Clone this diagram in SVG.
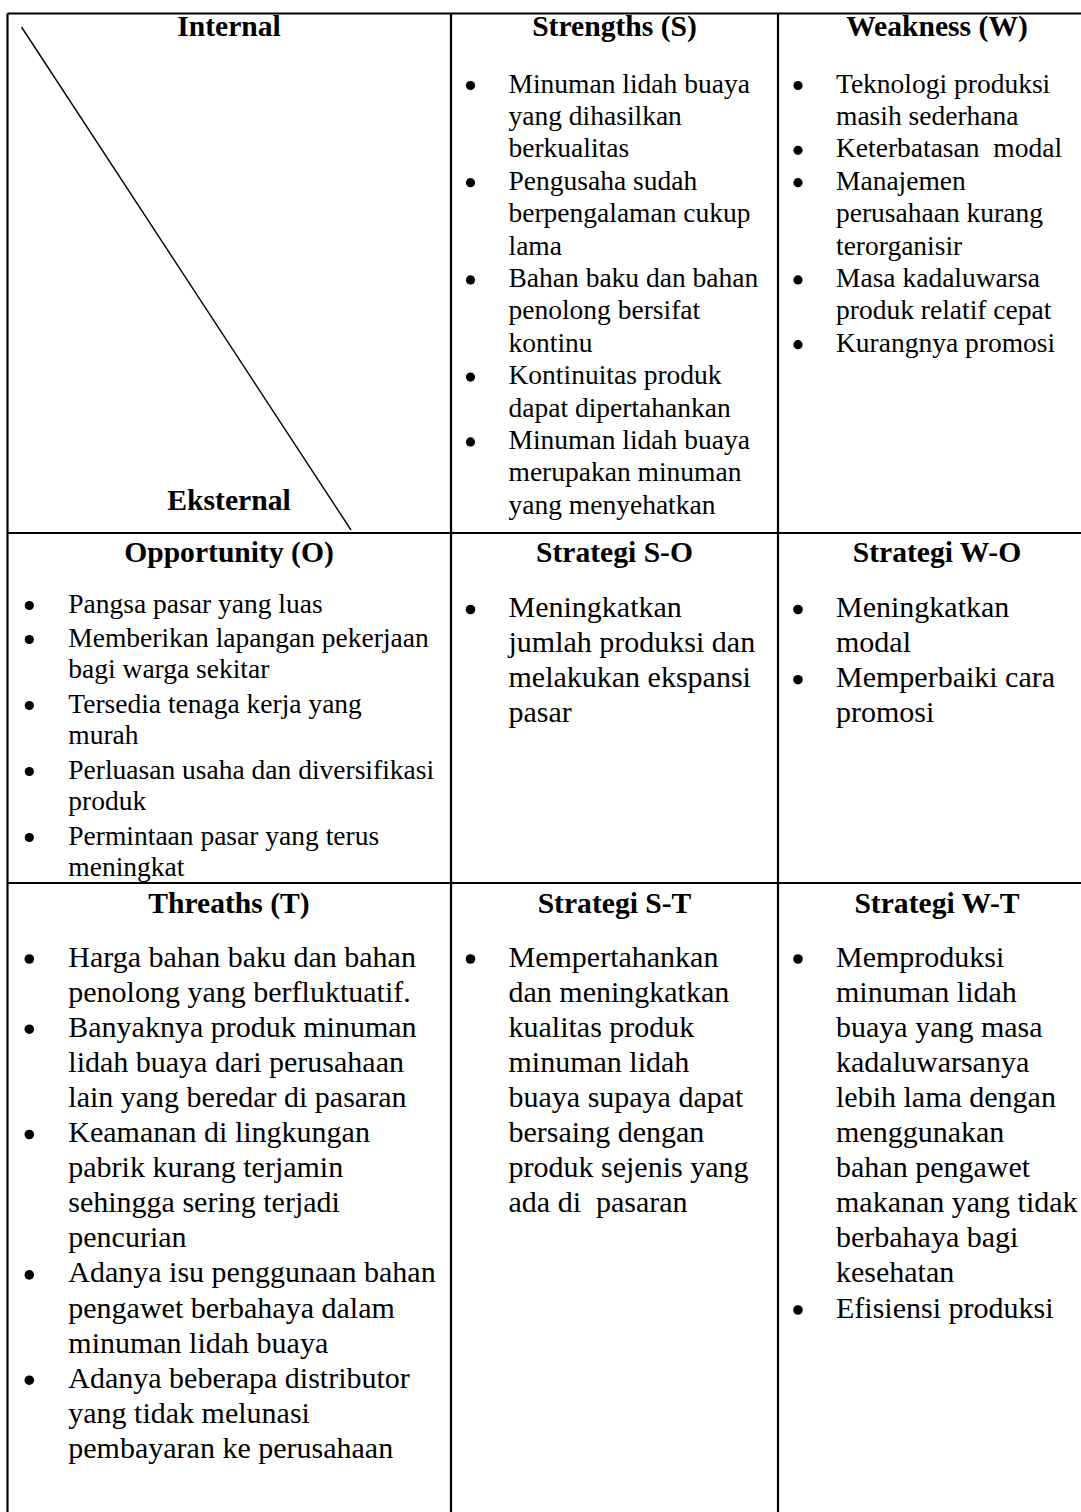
<svg xmlns="http://www.w3.org/2000/svg" width="1081" height="1512" viewBox="0 0 1081 1512">
<style>
text{font-family:"Liberation Serif","Times New Roman",serif;fill:#000}
.h{font-weight:bold;font-size:29.6px;text-anchor:middle}
.s{font-size:27.5px}
.l{font-size:30px}
.g{stroke:#000;stroke-width:2.2;fill:none}
.d{stroke:#000;stroke-width:1.4}
circle{fill:#000}
</style>
<rect width="1081" height="1512" fill="#fff"/>
<g id="grid">
<line class="g" x1="7.5" y1="13.5" x2="1081" y2="13.5"/>
<line class="g" x1="7.5" y1="13.5" x2="7.5" y2="1512"/>
<line class="g" x1="451" y1="13.5" x2="451" y2="1512"/>
<line class="g" x1="778" y1="13.5" x2="778" y2="1512"/>
<line class="g" x1="7.5" y1="533" x2="1081" y2="533"/>
<line class="g" x1="7.5" y1="883" x2="1081" y2="883"/>
<line id="diagonal" class="d" x1="21.5" y1="27" x2="351" y2="530"/>
</g>
<g id="corner">
<text class="h" x="229" y="36">Internal</text>
<text class="h" x="229" y="510">Eksternal</text>
</g>
<g id="strengths">
<text class="h" x="614.5" y="36">Strengths (S)</text>
<circle cx="470.5" cy="85.5" r="4.6"/><circle cx="470.5" cy="182.7" r="4.6"/><circle cx="470.5" cy="279.9" r="4.6"/><circle cx="470.5" cy="377.1" r="4.6"/><circle cx="470.5" cy="441.9" r="4.6"/>
<text class="s"><tspan x="508.5" y="92.5">Minuman lidah buaya</tspan><tspan x="508.5" y="124.9">yang dihasilkan</tspan><tspan x="508.5" y="157.3">berkualitas</tspan><tspan x="508.5" y="189.7">Pengusaha sudah</tspan><tspan x="508.5" y="222.1">berpengalaman cukup</tspan><tspan x="508.5" y="254.5">lama</tspan><tspan x="508.5" y="286.9">Bahan baku dan bahan</tspan><tspan x="508.5" y="319.3">penolong bersifat</tspan><tspan x="508.5" y="351.7">kontinu</tspan><tspan x="508.5" y="384.1">Kontinuitas produk</tspan><tspan x="508.5" y="416.5">dapat dipertahankan</tspan><tspan x="508.5" y="448.9">Minuman lidah buaya</tspan><tspan x="508.5" y="481.3">merupakan minuman</tspan><tspan x="508.5" y="513.7">yang menyehatkan</tspan></text>
</g>
<g id="weakness">
<text class="h" x="937" y="36">Weakness (W)</text>
<circle cx="798" cy="85.5" r="4.6"/><circle cx="798" cy="150.3" r="4.6"/><circle cx="798" cy="182.7" r="4.6"/><circle cx="798" cy="279.9" r="4.6"/><circle cx="798" cy="344.7" r="4.6"/>
<text class="s" xml:space="preserve"><tspan x="836" y="92.5">Teknologi produksi</tspan><tspan x="836" y="124.9">masih sederhana</tspan><tspan x="836" y="157.3">Keterbatasan  modal</tspan><tspan x="836" y="189.7">Manajemen</tspan><tspan x="836" y="222.1">perusahaan kurang</tspan><tspan x="836" y="254.5">terorganisir</tspan><tspan x="836" y="286.9">Masa kadaluwarsa</tspan><tspan x="836" y="319.3">produk relatif cepat</tspan><tspan x="836" y="351.7">Kurangnya promosi</tspan></text>
</g>
<g id="opportunity">
<text class="h" x="229" y="561.5">Opportunity (O)</text>
<circle cx="29.3" cy="605.5" r="4.6"/><circle cx="29.3" cy="639.5" r="4.6"/><circle cx="29.3" cy="705.5" r="4.6"/><circle cx="29.3" cy="771.5" r="4.6"/><circle cx="29.3" cy="837.5" r="4.6"/>
<text class="s"><tspan x="68.3" y="612.5">Pangsa pasar yang luas</tspan><tspan x="68.3" y="646.5">Memberikan lapangan pekerjaan</tspan><tspan x="68.3" y="678">bagi warga sekitar</tspan><tspan x="68.3" y="712.5">Tersedia tenaga kerja yang</tspan><tspan x="68.3" y="744">murah</tspan><tspan x="68.3" y="778.5">Perluasan usaha dan diversifikasi</tspan><tspan x="68.3" y="810">produk</tspan><tspan x="68.3" y="844.5">Permintaan pasar yang terus</tspan><tspan x="68.3" y="876">meningkat</tspan></text>
</g>
<g id="strategi-so">
<text class="h" x="614.5" y="561.5">Strategi S-O</text>
<circle cx="470.5" cy="609.5" r="4.8"/>
<text class="l"><tspan x="508.5" y="617">Meningkatkan</tspan><tspan x="508.5" y="652.1">jumlah produksi dan</tspan><tspan x="508.5" y="687.2">melakukan ekspansi</tspan><tspan x="508.5" y="722.3">pasar</tspan></text>
</g>
<g id="strategi-wo">
<text class="h" x="937" y="561.5">Strategi W-O</text>
<circle cx="798" cy="609.5" r="4.8"/><circle cx="798" cy="679.7" r="4.8"/>
<text class="l"><tspan x="836" y="617">Meningkatkan</tspan><tspan x="836" y="652.1">modal</tspan><tspan x="836" y="687.2">Memperbaiki cara</tspan><tspan x="836" y="722.3">promosi</tspan></text>
</g>
<g id="threats">
<text class="h" x="229" y="913">Threaths (T)</text>
<circle cx="29.3" cy="959" r="4.8"/><circle cx="29.3" cy="1029.2" r="4.8"/><circle cx="29.3" cy="1134.5" r="4.8"/><circle cx="29.3" cy="1274.9" r="4.8"/><circle cx="29.3" cy="1380.2" r="4.8"/>
<text class="l"><tspan x="68.3" y="966.5">Harga bahan baku dan bahan</tspan><tspan x="68.3" y="1001.6">penolong yang berfluktuatif.</tspan><tspan x="68.3" y="1036.7">Banyaknya produk minuman</tspan><tspan x="68.3" y="1071.8">lidah buaya dari perusahaan</tspan><tspan x="68.3" y="1106.9">lain yang beredar di pasaran</tspan><tspan x="68.3" y="1142">Keamanan di lingkungan</tspan><tspan x="68.3" y="1177.1">pabrik kurang terjamin</tspan><tspan x="68.3" y="1212.2">sehingga sering terjadi</tspan><tspan x="68.3" y="1247.3">pencurian</tspan><tspan x="68.3" y="1282.4">Adanya isu penggunaan bahan</tspan><tspan x="68.3" y="1317.5">pengawet berbahaya dalam</tspan><tspan x="68.3" y="1352.6">minuman lidah buaya</tspan><tspan x="68.3" y="1387.7">Adanya beberapa distributor</tspan><tspan x="68.3" y="1422.8">yang tidak melunasi</tspan><tspan x="68.3" y="1457.9">pembayaran ke perusahaan</tspan></text>
</g>
<g id="strategi-st">
<text class="h" x="614.5" y="913">Strategi S-T</text>
<circle cx="470.5" cy="959" r="4.8"/>
<text class="l" xml:space="preserve"><tspan x="508.5" y="966.5">Mempertahankan</tspan><tspan x="508.5" y="1001.6">dan meningkatkan</tspan><tspan x="508.5" y="1036.7">kualitas produk</tspan><tspan x="508.5" y="1071.8">minuman lidah</tspan><tspan x="508.5" y="1106.9">buaya supaya dapat</tspan><tspan x="508.5" y="1142">bersaing dengan</tspan><tspan x="508.5" y="1177.1">produk sejenis yang</tspan><tspan x="508.5" y="1212.2">ada di  pasaran</tspan></text>
</g>
<g id="strategi-wt">
<text class="h" x="937" y="913">Strategi W-T</text>
<circle cx="798" cy="959" r="4.8"/><circle cx="798" cy="1310" r="4.8"/>
<text class="l"><tspan x="836" y="966.5">Memproduksi</tspan><tspan x="836" y="1001.6">minuman lidah</tspan><tspan x="836" y="1036.7">buaya yang masa</tspan><tspan x="836" y="1071.8">kadaluwarsanya</tspan><tspan x="836" y="1106.9">lebih lama dengan</tspan><tspan x="836" y="1142">menggunakan</tspan><tspan x="836" y="1177.1">bahan pengawet</tspan><tspan x="836" y="1212.2">makanan yang tidak</tspan><tspan x="836" y="1247.3">berbahaya bagi</tspan><tspan x="836" y="1282.4">kesehatan</tspan><tspan x="836" y="1317.5">Efisiensi produksi</tspan></text>
</g>
</svg>
